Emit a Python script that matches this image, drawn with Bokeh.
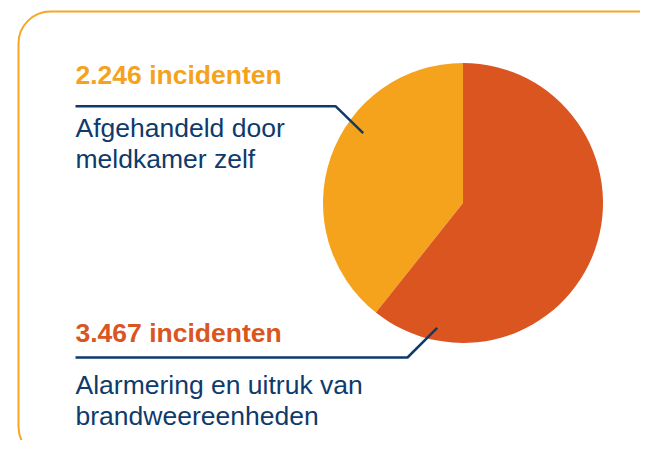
import numpy as np
from bokeh.plotting import figure
from bokeh.models import Range1d, ColumnDataSource
from bokeh.core.properties import value
from bokeh.embed import file_html
from bokeh.resources import INLINE

# ---- data ----
categories = ["Afgehandeld door meldkamer zelf", "Alarmering en uitruk van brandweereenheden"]
counts = [2246, 3467]
count_labels = ["2.246 incidenten", "3.467 incidenten"]
desc_lines = [["Afgehandeld door", "meldkamer zelf"], ["Alarmering en uitruk van", "brandweereenheden"]]
colors = ["#F5A21D", "#DA5520"]

NAVY = "#0E3A6C"
BORDER = "#F7A723"
FONT = "Liberation Sans"

W, H = 640, 440
p = figure(width=W, height=H, output_backend="svg", toolbar_location=None,
           x_range=Range1d(0, W), y_range=Range1d(0, H),
           min_border=0, outline_line_color=None)
p.axis.visible = False
p.grid.visible = False
p.background_fill_color = "white"
p.border_fill_color = "white"


def Y(py):
    # picture pixel y -> data y
    return H - py


# rounded border
p.quad(left=[18], right=[680], top=[Y(11)], bottom=[Y(458)], fill_color=None,
       line_color=BORDER, line_width=2, border_radius=32)

# pie
total = float(sum(counts))
fr = np.array(counts) / total
ends = np.pi / 2 + 2 * np.pi * np.cumsum(fr)
starts = np.concatenate([[np.pi / 2], ends[:-1]])
src = ColumnDataSource(dict(start=starts, end=ends, color=colors, cat=categories))
p.wedge(x=462.5, y=Y(202.5), radius=140, start_angle="start", end_angle="end",
        direction="anticlock", fill_color="color", line_color=None, source=src)

# leader lines
p.line(x=[75, 335, 362.7], y=[Y(105.7), Y(105.7), Y(132.7)], line_color=NAVY, line_width=2.5)
p.line(x=[75, 407, 436.7], y=[Y(357), Y(357), Y(327.3)], line_color=NAVY, line_width=2.5)

# texts
SHIFT = 10.5
head_base = [85 - SHIFT, 343.3 - SHIFT]
desc_base = [137.5 - SHIFT, 395 - SHIFT]
for i in range(2):
    p.text(x=[75], y=[Y(head_base[i])], text=[count_labels[i]], text_color=colors[i],
           text_font=value(FONT), text_font_style="bold", text_font_size="26.5px",
           text_baseline="alphabetic", text_align="left")
    for j, ln in enumerate(desc_lines[i]):
        p.text(x=[75], y=[Y(desc_base[i] + 31 * j)], text=[ln], text_color=NAVY,
               text_font=value(FONT), text_font_size="26.5px",
               text_baseline="alphabetic", text_align="left")

open("out.html", "w").write(file_html(p, INLINE))
